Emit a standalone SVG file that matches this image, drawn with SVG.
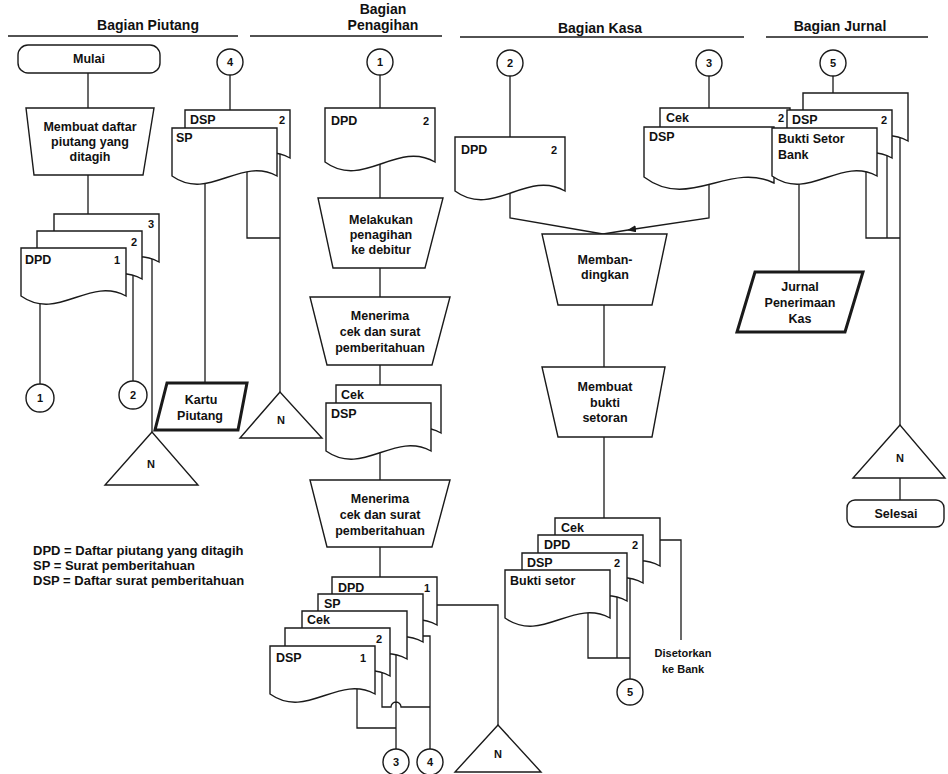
<svg xmlns="http://www.w3.org/2000/svg" width="948" height="774" viewBox="0 0 948 774">
<defs>
<style>
.s{fill:#fff;stroke:#1a1a1a;stroke-width:1.4}
.c{fill:none;stroke:#1a1a1a;stroke-width:1.3}
.t{stroke-width:3}
text{font-family:"Liberation Sans",Arial,sans-serif;font-weight:700;fill:#111;font-size:12.5px}
.m{text-anchor:middle}
.h{font-size:14px}
.sm{font-size:11px}
.lg{font-size:13px}
</style>
<path id="doc" d="M0,0H105V48C68,28 37,74 0,48Z"/>
<path id="docL" d="M0,0H110V54C72,32 38,82 0,54Z"/>
<path id="docW" d="M0,0H130V56C85,34 45,84 0,50Z"/>
<marker id="arr" markerUnits="userSpaceOnUse" markerWidth="9" markerHeight="7" refX="8" refY="3.5" orient="auto"><path d="M0,0L9,3.5L0,7Z" fill="#1a1a1a"/></marker>
</defs>
<rect width="948" height="774" fill="#fff"/>

<g id="headers">
<path class="c" d="M8,36H238M250,36H442M460,37H744M766,37H928"/>
<text class="h m" x="148" y="30">Bagian Piutang</text>
<text class="h m" x="383" y="14">Bagian</text>
<text class="h m" x="383" y="30">Penagihan</text>
<text class="h m" x="600" y="33">Bagian Kasa</text>
<text class="h m" x="840" y="31">Bagian Jurnal</text>
</g>

<g id="connectors">
<path class="c" d="M88,73V108M88,175V214M40,300V384M133,270V381M152,255V432M230,75V110M205,175V383M247,165V238H280M280,150V392"/>
<path class="c" d="M380,75V108M380,155V198M380,268V297M380,365V385M380,440V480M380,547V577M435,605H498V725M420,636H430V749M396,650V749M382,665V707H391A5,5 0 0 1 401,707H430M357,685V728H396"/>
<path class="c" d="M510,76V137M510,185V218L603,234M709,76V108M604,305V367M604,437V518M660,540H681V640M588,610V658H630M617,590V658M630,575V679"/>
<path class="c" d="M709,165V218L628,230" marker-end="url(#arr)"/>
<path class="c" d="M628,230L603,234"/>
<path class="c" d="M833,76V93M799,175V272M866,165V238H900M887,150V238M900,135V425M900,478V500"/>
</g>

<g id="mulai"><rect class="s" x="18" y="45" width="142" height="28" rx="10"/><text class="m" x="89" y="63">Mulai</text></g>
<g id="membuat-daftar"><polygon class="s" points="26,108 154,108 143,175 34,175"/>
<text class="m" x="90" y="131">Membuat daftar</text><text class="m" x="90" y="146">piutang yang</text><text class="m" x="90" y="161">ditagih</text></g>
<g id="dpd-stack">
<use href="#doc" class="s" x="54" y="214"/><text class="sm" x="148" y="228">3</text>
<use href="#doc" class="s" x="37" y="231"/><text class="sm" x="131" y="246">2</text>
<use href="#doc" class="s" x="21" y="248"/><text x="25" y="264">DPD</text><text class="sm" x="114" y="264">1</text>
</g>
<g id="c1a"><circle class="s" cx="40" cy="398" r="14"/><text class="m sm" x="40" y="402">1</text></g>
<g id="c2a"><circle class="s" cx="133" cy="395" r="14"/><text class="m sm" x="133" y="399">2</text></g>
<g id="n1"><polygon class="s" points="152,432 105,485 198,485"/><text class="m sm" x="151" y="468">N</text></g>
<g id="c4a"><circle class="s" cx="230" cy="62" r="13"/><text class="m sm" x="230" y="66">4</text></g>
<g id="dsp-sp">
<use href="#doc" class="s" x="185" y="110"/><text x="190" y="124">DSP</text><text class="sm" x="279" y="124">2</text>
<use href="#doc" class="s" x="172" y="128"/><text x="176" y="142">SP</text>
</g>
<g id="kartu-piutang"><polygon class="s t" points="167,383 247,383 238,430 155,430"/><text class="m" x="201" y="404">Kartu</text><text class="m" x="200" y="420">Piutang</text></g>
<g id="n2"><polygon class="s" points="280,392 240,438 322,438"/><text class="m sm" x="281" y="424">N</text></g>
<g id="legend">
<text class="lg" x="33" y="555">DPD = Daftar piutang yang ditagih</text>
<text class="lg" x="33" y="570">SP = Surat pemberitahuan</text>
<text class="lg" x="33" y="585">DSP = Daftar surat pemberitahuan</text>
</g>

<g id="c1b"><circle class="s" cx="380" cy="62" r="13"/><text class="m sm" x="380" y="66">1</text></g>
<g id="dpd2"><use href="#docL" class="s" x="325" y="108"/><text x="331" y="125">DPD</text><text class="sm" x="423" y="125">2</text></g>
<g id="melakukan"><polygon class="s" points="318,198 443,198 425,268 333,268"/>
<text class="m" x="381" y="224">Melakukan</text><text class="m" x="381" y="239">penagihan</text><text class="m" x="381" y="254">ke debitur</text></g>
<g id="menerima1"><polygon class="s" points="310,297 450,297 432,365 327,365"/>
<text class="m" x="380" y="320">Menerima</text><text class="m" x="380" y="336">cek dan surat</text><text class="m" x="380" y="352">pemberitahuan</text></g>
<g id="cek-dsp"><use href="#doc" class="s" x="336" y="385"/><text x="341" y="399">Cek</text>
<use href="#doc" class="s" x="326" y="403"/><text x="331" y="418">DSP</text></g>
<g id="menerima2"><polygon class="s" points="310,480 450,480 432,547 327,547"/>
<text class="m" x="380" y="503">Menerima</text><text class="m" x="380" y="519">cek dan surat</text><text class="m" x="380" y="535">pemberitahuan</text></g>
<g id="stack-penagihan">
<use href="#doc" class="s" x="332" y="577"/><text x="338" y="592">DPD</text><text class="sm" x="424" y="592">1</text>
<use href="#doc" class="s" x="318" y="594"/><text x="324" y="608">SP</text>
<use href="#doc" class="s" x="302" y="611"/><text x="307" y="624">Cek</text>
<use href="#doc" class="s" x="285" y="628"/><text class="sm" x="376" y="643">2</text>
<use href="#doc" class="s" x="270" y="646"/><text x="276" y="662">DSP</text><text class="sm" x="360" y="662">1</text>
</g>
<g id="c3a"><circle class="s" cx="396" cy="762" r="13"/><text class="m sm" x="396" y="766">3</text></g>
<g id="c4b"><circle class="s" cx="430" cy="762" r="13"/><text class="m sm" x="430" y="766">4</text></g>
<g id="n3"><polygon class="s" points="498,725 455,772 541,772"/><text class="m sm" x="498" y="758">N</text></g>

<g id="c2b"><circle class="s" cx="510" cy="63" r="13"/><text class="m sm" x="510" y="67">2</text></g>
<g id="dpd-kasa"><use href="#docL" class="s" x="455" y="137"/><text x="461" y="154">DPD</text><text class="sm" x="551" y="154">2</text></g>
<g id="c3b"><circle class="s" cx="709" cy="63" r="13"/><text class="m sm" x="709" y="67">3</text></g>
<g id="cek-dsp-kasa"><use href="#docW" class="s" x="660" y="108"/><text x="666" y="122">Cek</text><text class="sm" x="778" y="122">2</text>
<use href="#docW" class="s" x="644" y="127"/><text x="649" y="141">DSP</text></g>
<g id="membandingkan"><polygon class="s" points="542,234 667,234 652,305 558,305"/>
<text class="m" x="605" y="264">Memban-</text><text class="m" x="605" y="279">dingkan</text></g>
<g id="membuat-bukti"><polygon class="s" points="542,367 665,367 652,437 558,437"/>
<text class="m" x="605" y="391">Membuat</text><text class="m" x="605" y="407">bukti</text><text class="m" x="605" y="422">setoran</text></g>
<g id="stack-kasa">
<use href="#doc" class="s" x="555" y="518"/><text x="561" y="532">Cek</text>
<use href="#doc" class="s" x="538" y="535"/><text x="544" y="549">DPD</text><text class="sm" x="632" y="549">2</text>
<use href="#doc" class="s" x="522" y="553"/><text x="527" y="567">DSP</text><text class="sm" x="614" y="567">2</text>
<use href="#doc" class="s" x="505" y="570"/><text x="510" y="585">Bukti setor</text>
</g>
<g id="disetorkan"><text class="m sm" x="683" y="657">Disetorkan</text><text class="m sm" x="683" y="673">ke Bank</text></g>
<g id="c5a"><circle class="s" cx="630" cy="692" r="13"/><text class="m sm" x="630" y="696">5</text></g>

<g id="c5b"><circle class="s" cx="833" cy="63" r="13"/><text class="m sm" x="833" y="67">5</text></g>
<g id="stack-jurnal">
<use href="#doc" class="s" x="803" y="93"/>
<use href="#doc" class="s" x="787" y="110"/><text x="792" y="124">DSP</text><text class="sm" x="881" y="124">2</text>
<use href="#doc" class="s" x="772" y="128"/><text x="778" y="143">Bukti Setor</text><text x="778" y="159">Bank</text>
</g>
<g id="jurnal-penerimaan"><polygon class="s t" points="755,272 863,272 845,332 737,332"/>
<text class="m" x="800" y="291">Jurnal</text><text class="m" x="800" y="307">Penerimaan</text><text class="m" x="800" y="323">Kas</text></g>
<g id="n4"><polygon class="s" points="900,425 853,478 945,478"/><text class="m sm" x="900" y="462">N</text></g>
<g id="selesai"><rect class="s" x="847" y="500" width="97" height="27" rx="8"/><text class="m" x="896" y="518">Selesai</text></g>
</svg>
